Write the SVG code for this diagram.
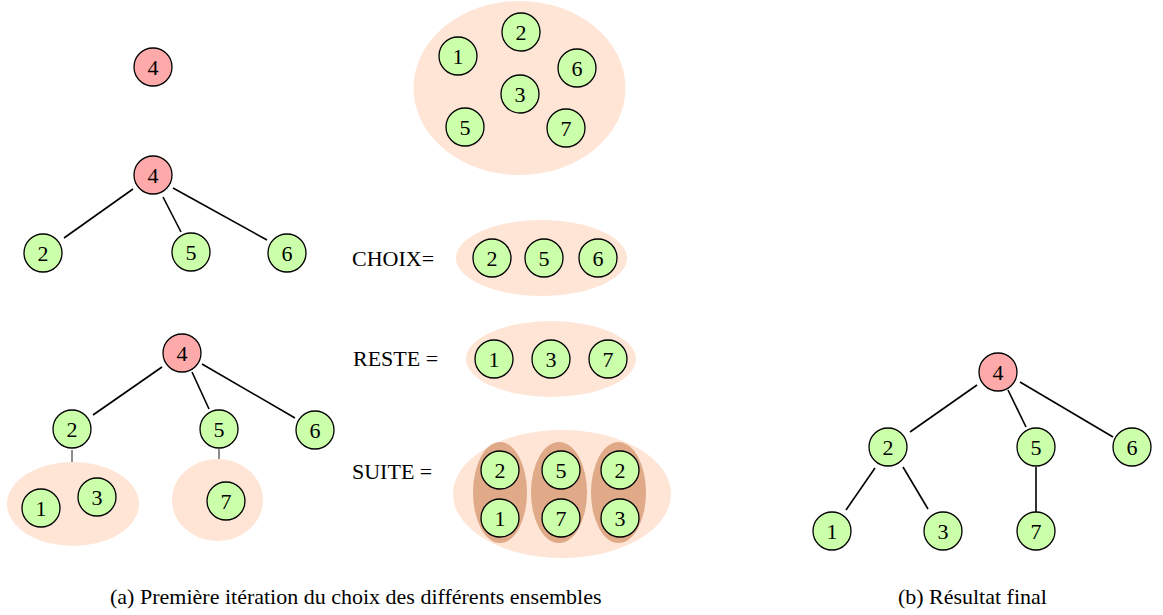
<svg xmlns="http://www.w3.org/2000/svg" width="1163" height="615" viewBox="0 0 1163 615">
<style>
text{font-family:"Liberation Serif","Times New Roman",serif;font-size:22px;fill:#000}
.n text{text-anchor:middle}
.g{fill:#ccffaa;stroke:#000;stroke-width:1.3}
.r{fill:#ffaaaa;stroke:#000;stroke-width:1.3}
.set{fill:#fee5d6;stroke:none}
.sub{fill:#e0aa88;stroke:none}
.e{stroke:#000;stroke-width:1.6;fill:none}
.t{stroke:#000;stroke-width:0.9;fill:none}
</style>
<rect width="1163" height="615" fill="#fff"/>
<defs>
<circle id="cg" r="19" class="g"/>
<circle id="cr" r="19" class="r"/>
</defs>

<!-- sets (backgrounds) -->
<g id="sets">
<ellipse class="set" cx="519.5" cy="88" rx="106" ry="87"/>
<ellipse class="set" cx="541.5" cy="258" rx="85.5" ry="38"/>
<ellipse class="set" cx="551" cy="359" rx="85" ry="38"/>
<ellipse class="set" cx="562" cy="494" rx="109" ry="64"/>
<ellipse class="sub" cx="500" cy="492.5" rx="27" ry="50.5"/>
<ellipse class="sub" cx="559" cy="492.5" rx="28" ry="50.5"/>
<ellipse class="sub" cx="618.5" cy="492.5" rx="27.5" ry="50.5"/>
<ellipse class="set" cx="73" cy="504" rx="66" ry="42"/>
<ellipse class="set" cx="217.5" cy="500" rx="45.5" ry="41"/>
</g>

<!-- connectors -->
<g id="connectors">
<line class="e" x1="133" y1="189" x2="64" y2="238"/>
<line class="e" x1="163" y1="197" x2="181" y2="232"/>
<line class="e" x1="173" y1="188" x2="267" y2="240"/>

<line class="e" x1="162" y1="367" x2="93" y2="415"/>
<line class="e" x1="192" y1="372" x2="209" y2="409"/>
<line class="e" x1="202" y1="364" x2="295" y2="418"/>
<line class="t" x1="72" y1="450" x2="72" y2="462"/>
<line class="t" x1="219" y1="449" x2="219" y2="459"/>

<line class="e" x1="977" y1="385" x2="910" y2="432"/>
<line class="e" x1="1008" y1="390" x2="1026" y2="427"/>
<line class="e" x1="1020" y1="382" x2="1113" y2="437"/>
<line class="e" x1="875" y1="468" x2="846" y2="510"/>
<line class="e" x1="903" y1="467" x2="928" y2="509"/>
<line class="e" x1="1036" y1="467" x2="1036" y2="512"/>
</g>

<!-- top -->
<g id="t1-4" class="n"><use href="#cr" x="153" y="67"/><text x="153" y="74.5">4</text></g>

<g id="all-set" class="n">
<g id="all-1"><use href="#cg" x="458" y="56"/><text x="458" y="63.5">1</text></g>
<g id="all-2"><use href="#cg" x="521" y="32"/><text x="521" y="39.5">2</text></g>
<g id="all-6"><use href="#cg" x="577" y="68"/><text x="577" y="75.5">6</text></g>
<g id="all-3"><use href="#cg" x="520" y="94"/><text x="520" y="101.5">3</text></g>
<g id="all-5"><use href="#cg" x="465" y="127"/><text x="465" y="134.5">5</text></g>
<g id="all-7"><use href="#cg" x="566" y="128"/><text x="566" y="135.5">7</text></g>
</g>

<!-- tree 2 -->
<g id="t2-4" class="n"><use href="#cr" x="153" y="175"/><text x="153" y="182.5">4</text></g>
<g id="t2-2" class="n"><use href="#cg" x="43" y="253"/><text x="43" y="260.5">2</text></g>
<g id="t2-5" class="n"><use href="#cg" x="191" y="252"/><text x="191" y="259.5">5</text></g>
<g id="t2-6" class="n"><use href="#cg" x="287" y="253"/><text x="287" y="260.5">6</text></g>

<g id="choix">
<text x="352" y="266">CHOIX=</text>
<g class="n">
<g id="c-2"><use href="#cg" x="492" y="258"/><text x="492" y="265.5">2</text></g>
<g id="c-5"><use href="#cg" x="544" y="258"/><text x="544" y="265.5">5</text></g>
<g id="c-6"><use href="#cg" x="598" y="258"/><text x="598" y="265.5">6</text></g>
</g>
</g>

<g id="reste">
<text x="353" y="366">RESTE =</text>
<g class="n">
<g id="r-1"><use href="#cg" x="494" y="359"/><text x="494" y="366.5">1</text></g>
<g id="r-3"><use href="#cg" x="551" y="359"/><text x="551" y="366.5">3</text></g>
<g id="r-7"><use href="#cg" x="608" y="359"/><text x="608" y="366.5">7</text></g>
</g>
</g>

<!-- tree 3 -->
<g id="t3-4" class="n"><use href="#cr" x="182" y="353"/><text x="182" y="360.5">4</text></g>
<g id="t3-2" class="n"><use href="#cg" x="72" y="429"/><text x="72" y="436.5">2</text></g>
<g id="t3-5" class="n"><use href="#cg" x="219" y="429"/><text x="219" y="436.5">5</text></g>
<g id="t3-6" class="n"><use href="#cg" x="315" y="430"/><text x="315" y="437.5">6</text></g>
<g id="t3-1" class="n"><use href="#cg" x="41" y="508"/><text x="41" y="515.5">1</text></g>
<g id="t3-3" class="n"><use href="#cg" x="97" y="497"/><text x="97" y="504.5">3</text></g>
<g id="t3-7" class="n"><use href="#cg" x="226" y="501"/><text x="226" y="508.5">7</text></g>

<g id="suite">
<text x="352" y="479">SUITE =</text>
<g class="n">
<g id="s-2a"><use href="#cg" x="500" y="470"/><text x="500" y="477.5">2</text></g>
<g id="s-1"><use href="#cg" x="500" y="518"/><text x="500" y="525.5">1</text></g>
<g id="s-5"><use href="#cg" x="561" y="470"/><text x="561" y="477.5">5</text></g>
<g id="s-7"><use href="#cg" x="561" y="518"/><text x="561" y="525.5">7</text></g>
<g id="s-2b"><use href="#cg" x="620" y="470"/><text x="620" y="477.5">2</text></g>
<g id="s-3"><use href="#cg" x="620" y="518"/><text x="620" y="525.5">3</text></g>
</g>
</g>

<!-- final tree -->
<g id="f-4" class="n"><use href="#cr" x="998" y="372"/><text x="998" y="379.5">4</text></g>
<g id="f-2" class="n"><use href="#cg" x="888" y="447"/><text x="888" y="454.5">2</text></g>
<g id="f-5" class="n"><use href="#cg" x="1036" y="447"/><text x="1036" y="454.5">5</text></g>
<g id="f-6" class="n"><use href="#cg" x="1132" y="447"/><text x="1132" y="454.5">6</text></g>
<g id="f-1" class="n"><use href="#cg" x="832" y="531"/><text x="832" y="538.5">1</text></g>
<g id="f-3" class="n"><use href="#cg" x="943" y="531"/><text x="943" y="538.5">3</text></g>
<g id="f-7" class="n"><use href="#cg" x="1036" y="531"/><text x="1036" y="538.5">7</text></g>

<g id="captions">
<text x="110" y="604" font-size="20.4">(a)<tspan x="140">Première itération du choix des différents ensembles</tspan></text>
<text x="898" y="604" font-size="19">(b)<tspan x="929">Résultat final</tspan></text>
</g>
</svg>
